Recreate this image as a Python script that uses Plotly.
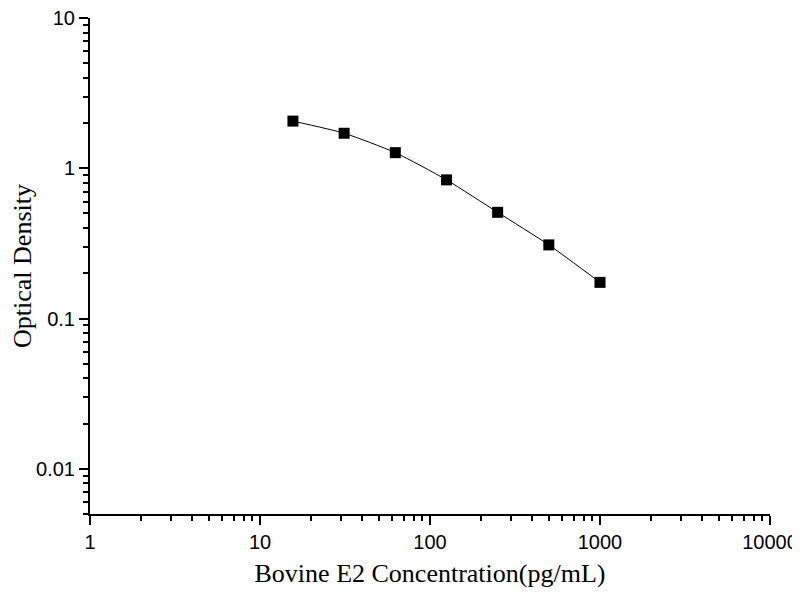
import plotly.graph_objects as go

# standard curve data
conc = [15.625, 31.25, 62.5, 125, 250, 500, 1000]
od = [2.06, 1.71, 1.27, 0.837, 0.509, 0.309, 0.174]

x_ticks = [1, 10, 100, 1000, 10000]
x_ticktext = ["1", "10", "100", "1000", "10000"]
y_ticks = [0.01, 0.1, 1, 10]
y_ticktext = ["0.01", "0.1", "1", "10"]

fig = go.Figure()
fig.add_trace(go.Scatter(
    x=conc,
    y=od,
    mode="lines+markers",
    line=dict(color="black", width=1, shape="spline", smoothing=0.6),
    marker=dict(symbol="square", size=11, color="black"),
    showlegend=False,
    cliponaxis=False,
))

axis_common = dict(
    type="log",
    automargin=False,
    ticklabeloverflow="allow",
    showline=True,
    linecolor="black",
    linewidth=2,
    showgrid=False,
    zeroline=False,
    ticks="outside",
    ticklen=9,
    tickwidth=2,
    tickcolor="black",
    tickfont=dict(family="Liberation Sans, Arial", size=20, color="black"),
    minor=dict(ticks="outside", ticklen=5, tickwidth=2, tickcolor="black",
               dtick="D1", showgrid=False),
)

# page body adds an 8px offset, margins compensate for it
fig.update_layout(
    width=800,
    height=600,
    paper_bgcolor="white",
    plot_bgcolor="white",
    margin=dict(l=82, r=38, t=10, b=94),
    xaxis=dict(
        **axis_common,
        range=[0, 4],
        tickvals=x_ticks,
        ticktext=x_ticktext,
        title=dict(text="Bovine E2 Concentration(pg/mL)",
                   font=dict(family="Liberation Serif, Times New Roman", size=26, color="black"),
                   standoff=12),
    ),
    yaxis=dict(
        **axis_common,
        range=[-2.301, 1],
        tickvals=y_ticks,
        ticktext=y_ticktext,
        title=dict(text="Optical Density",
                   font=dict(family="Liberation Serif, Times New Roman", size=26, color="black"),
                   standoff=10),
    ),
)

fig.write_html("out.html")
